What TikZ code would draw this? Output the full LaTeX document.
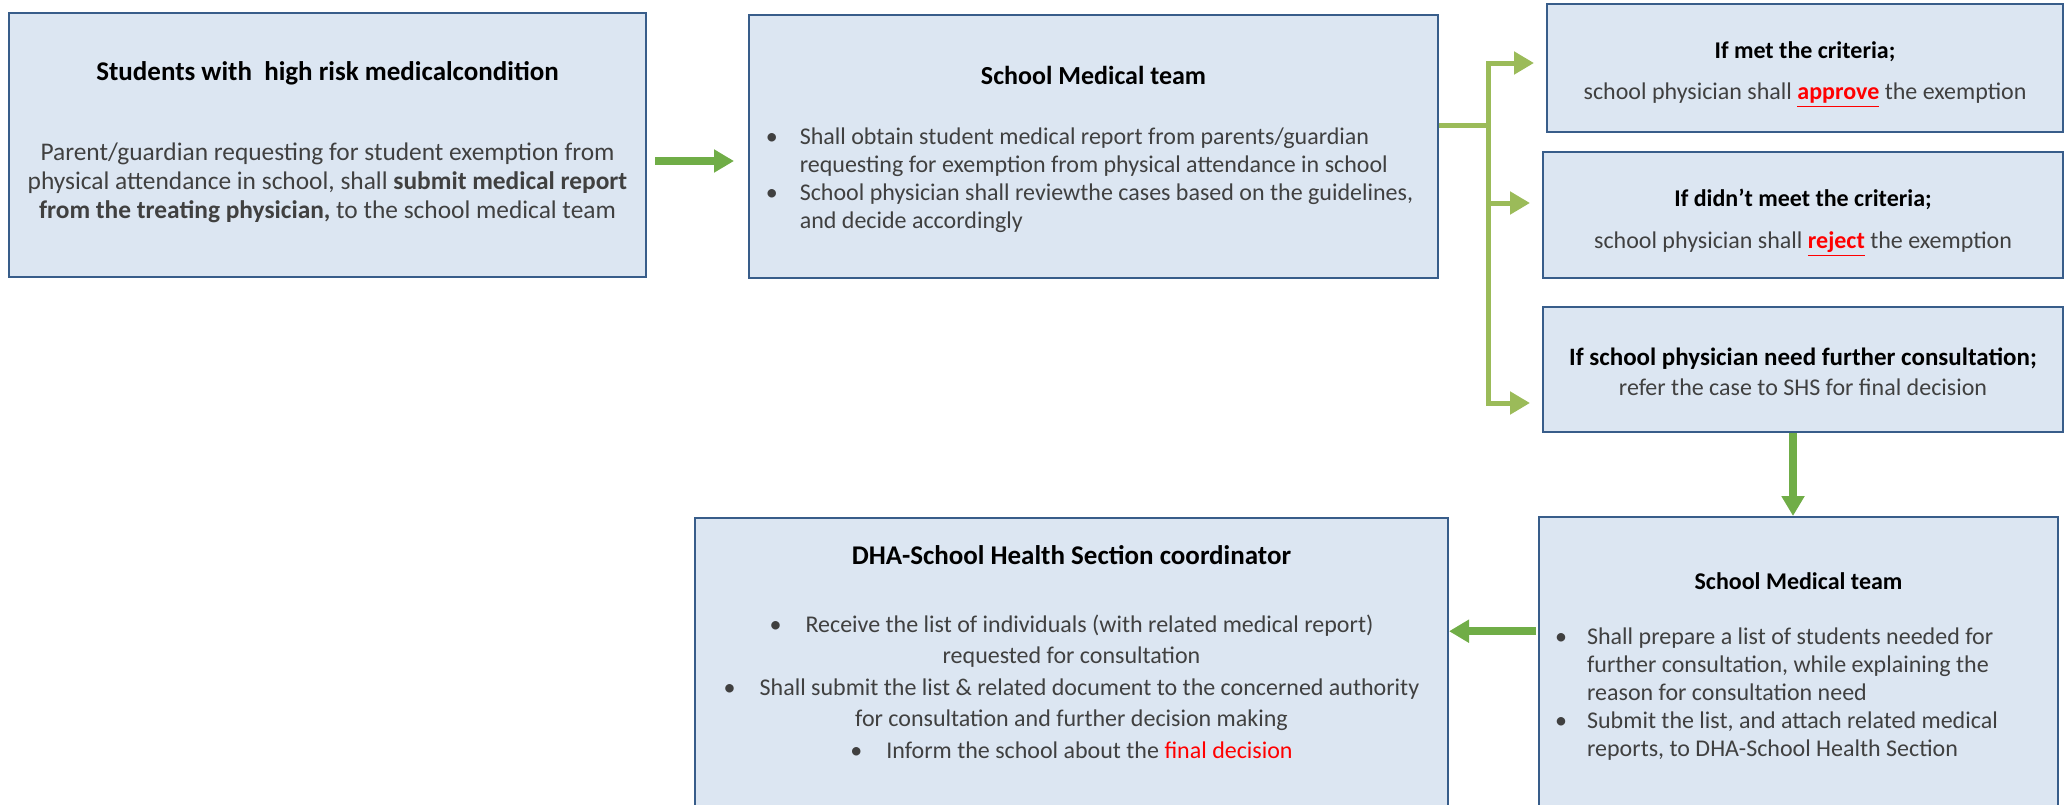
\documentclass[tikz,border=0pt]{standalone}
\usepackage{fontspec}
\setmainfont{Carlito}
\usetikzlibrary{arrows.meta}

\definecolor{boxfill}{HTML}{DCE6F2}
\definecolor{boxline}{HTML}{385D8A}
\definecolor{flowgreen}{HTML}{70AD47}
\definecolor{branchgreen}{HTML}{9BBB59}
\definecolor{bodygray}{HTML}{404040}
\definecolor{alertred}{HTML}{FF0000}

\newcommand{\hd}[2][12]{\textcolor{black}{\fontsize{#1}{14}\selectfont\bfseries #2}}
\newcommand{\alert}[1]{\textcolor{alertred}{\textbf{\underline{#1}}}}
\newcommand{\topstrut}[1]{\rule{0pt}{#1}}
\newcommand{\botstrut}[1]{\rule[-#1]{0pt}{#1}}

\begin{document}
\begin{tikzpicture}[
        x=0.5pt, y=-0.5pt,
        box/.style={
            rectangle,
            draw=boxline,
            fill=boxfill,
            line width=1pt,
            inner sep=0pt,
            align=center,
            text=bodygray,
            font=\fontsize{12}{14.5}\selectfont
        },
        flow/.style={-{Triangle[length=10pt, width=11pt]}, line width=3.75pt, draw=flowgreen},
        branch/.style={line width=2.5pt, draw=branchgreen},
        branchtip/.style={branch, -{Triangle[length=10pt, width=11pt]}, shorten >=6pt}
    ]

    \useasboundingbox (0,0) rectangle (2071,804);

    \node[box, minimum width=318.5pt, minimum height=132pt,
          font=\fontsize{12.7}{14.5}\selectfont] (students) at (327.5,145)
        {\topstrut{14.6pt}\hd[13.5]{Students with\ \ high risk medicalcondition}\\[25.5pt]
         Parent/guardian requesting for student exemption from\\
         physical attendance in school, shall \textbf{submit medical report}\\
         \textbf{from the treating physician,} to the school medical team\botstrut{10pt}};
    \node[box, minimum width=344.5pt, minimum height=131.5pt,
          font=\fontsize{12}{14}\selectfont] (team) at (1093.5,146.5)
        {\topstrut{14pt}\hd[13]{School Medical team}\\[16pt]
         \hspace*{-4pt}\begin{tabular}[t]{@{}l@{\hspace{11pt}}l@{}}
         \textbullet & Shall obtain student medical report from parents/guardian\\
                     & requesting for exemption from physical attendance in school\\
         \textbullet & School physician shall reviewthe cases based on the guidelines,\\
                     & and decide accordingly
         \end{tabular}};
    \node[box, minimum width=258pt, minimum height=64pt] (approve) at (1805,68)
        {\topstrut{15pt}\hd{If met the criteria;}\\[6pt]
         school physician shall \alert{approve} the exemption\botstrut{4pt}};
    \node[box, minimum width=260pt, minimum height=63pt] (reject) at (1803,215)
        {\topstrut{16.6pt}\hd{If didn’t meet the criteria;}\\[6.5pt]
         school physician shall \alert{reject} the exemption\botstrut{4pt}};
    \node[box, minimum width=260pt, minimum height=62.5pt] (refer) at (1803,369.5)
        {\topstrut{14.5pt}\hd[12.5]{If school physician need further consultation;}\\[0.5pt]
         refer the case to SHS for final decision\botstrut{4pt}};
    \node[box, minimum width=259.5pt, minimum height=146.7pt,
          font=\fontsize{12}{14}\selectfont] (prepare) at (1798.5,663.7)
        {\topstrut{13pt}\hd{School Medical team}\\[13.5pt]
         \hspace*{-22pt}\begin{tabular}[t]{@{}l@{\hspace{10pt}}l@{}}
         \textbullet & Shall prepare a list of students needed for\\
                     & further consultation, while explaining the\\
                     & reason for consultation need\\
         \textbullet & Submit the list, and attach related medical\\
                     & reports, to DHA-School Health Section
         \end{tabular}};
    \node[box, minimum width=376.5pt, minimum height=148pt,
          font=\fontsize{12}{15.75}\selectfont] (shs) at (1071.5,666)
        {\topstrut{12pt}\hd[13.5]{DHA-School Health Section coordinator}\\[18.25pt]
         \textbullet\quad Receive the list of individuals (with related medical report)\\
         requested for consultation\\
         \textbullet\quad Shall submit the list \& related document to the concerned authority\\
         for consultation and further decision making\\
         \textbullet\quad Inform the school about the \textcolor{alertred}{final decision}\botstrut{17pt}};

    % decision branches
    \coordinate (split) at (1488,125);
    \draw[branch] (team.east |- split) -- (split);
    \draw[branchtip] (split) |- ([yshift=2.5pt]approve.west);
    \draw[branchtip] (split) |- ([yshift=6pt]reject.west);
    \draw[branchtip] (split) |- ([yshift=-16.75pt]refer.west);

    \draw[flow, shorten <=4pt, shorten >=7pt] ([yshift=-8pt]students.east) -- ([yshift=-8pt]students.east -| team.west);
    \draw[flow] ([xshift=-5pt]refer.south) -- ([xshift=-5pt]refer.south |- prepare.north);
    \draw[flow, shorten <=1pt] ([yshift=16.25pt]prepare.west) -- ([yshift=16.25pt]prepare.west -| shs.east);

\end{tikzpicture}
\end{document}
